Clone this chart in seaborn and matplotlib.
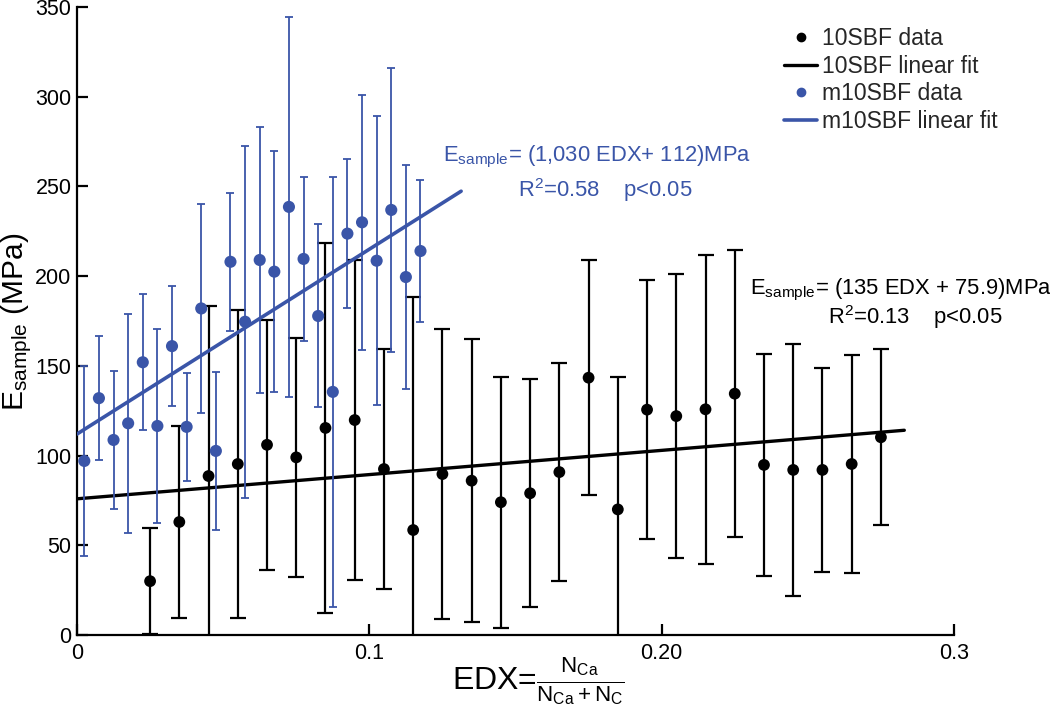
import matplotlib
matplotlib.use("Agg")
import matplotlib.pyplot as plt
from matplotlib.lines import Line2D
import seaborn as sns
import pandas as pd

# ---- data ----
black_x = [0.025, 0.035, 0.045, 0.055, 0.065, 0.075, 0.085, 0.095, 0.105, 0.115,
           0.125, 0.135, 0.145, 0.155, 0.165, 0.175, 0.185, 0.195, 0.205, 0.215,
           0.225, 0.235, 0.245, 0.255, 0.265, 0.275]
black_y = [30, 63, 88.6, 95.3, 106, 99, 115.4, 119.8, 92.5, 58.5,
           89.7, 86, 74, 79, 90.8, 143.4, 70, 125.6, 122, 125.8,
           134.5, 94.8, 92, 92, 95.3, 110.2]
black_err = [29.5, 53.5, 94.5, 86, 69.5, 66.5, 103, 89, 67, 130,
             81, 79, 70, 63.5, 60.7, 65.5, 74, 72, 79, 86,
             80, 62, 70, 57, 60.5, 49]

blue_x = [0.0025, 0.0075, 0.0125, 0.0175, 0.0225, 0.0275, 0.0325, 0.0375,
          0.0425, 0.0475, 0.0525, 0.0575, 0.0625, 0.0675, 0.0725, 0.0775,
          0.0825, 0.0875, 0.0925, 0.0975, 0.1025, 0.1075, 0.1125, 0.1175]
blue_y = [97, 132, 108.7, 118, 152, 116.5, 161, 116,
          182, 102.6, 208, 174.6, 209, 202.5, 238.6, 209.6,
          177.8, 135.5, 223.7, 230, 208.6, 236.9, 199.5, 214]
blue_err = [53, 34.5, 38.5, 61, 38, 54, 33.5, 30,
            58, 44, 38.5, 98, 74, 67, 106, 45.5,
            51, 120, 41.5, 71, 80.5, 79, 62.5, 39.5]

# linear fits (slope, intercept) and x-range of the drawn fit lines
black_fit = (135, 75.9)
black_fit_x = [0.0, 0.283]
blue_fit = (1030, 112)
blue_fit_x = [0.0, 0.1314]

x_ticks = [0, 0.1, 0.2, 0.3]
x_ticklabels = ["0", "0.1", "0.20", "0.3"]
y_ticks = [0, 50, 100, 150, 200, 250, 300, 350]

BLUE = "#3A55A8"

# ---- style ----
sns.set_theme(style="ticks")
plt.rcParams["font.family"] = ["Liberation Sans", "DejaVu Sans"]
plt.rcParams["mathtext.fontset"] = "custom"
plt.rcParams["mathtext.rm"] = "Liberation Sans"
plt.rcParams["mathtext.it"] = "Liberation Sans:italic"
plt.rcParams["mathtext.bf"] = "Liberation Sans:bold"

fig = plt.figure(figsize=(10.5, 7.05), dpi=100)
ax = fig.add_axes([77 / 1050, 70 / 705, (954 - 77) / 1050, (635 - 7) / 705])

df_black = pd.DataFrame({"x": black_x, "y": black_y})
df_blue = pd.DataFrame({"x": blue_x, "y": blue_y})
df_bfit = pd.DataFrame({"x": black_fit_x,
                        "y": [black_fit[0] * v + black_fit[1] for v in black_fit_x]})
df_ufit = pd.DataFrame({"x": blue_fit_x,
                        "y": [blue_fit[0] * v + blue_fit[1] for v in blue_fit_x]})

# black series
ax.errorbar(black_x, black_y, yerr=black_err, fmt="none", ecolor="black",
            elinewidth=1.6, capsize=5.5, capthick=1.6, zorder=2)
sns.lineplot(data=df_bfit, x="x", y="y", color="black", lw=2.4, ax=ax, zorder=3)
sns.scatterplot(data=df_black, x="x", y="y", color="black", s=72,
                edgecolor="none", ax=ax, zorder=4)

# blue series
ax.errorbar(blue_x, blue_y, yerr=blue_err, fmt="none", ecolor=BLUE,
            elinewidth=1.3, capsize=2.8, capthick=1.3, zorder=5)
sns.lineplot(data=df_ufit, x="x", y="y", color=BLUE, lw=2.6, ax=ax, zorder=6)
sns.scatterplot(data=df_blue, x="x", y="y", color=BLUE, s=76,
                edgecolor="none", ax=ax, zorder=7)

ax.set_xlim(0, 0.3)
ax.set_ylim(0, 350)
ax.set_xticks(x_ticks)
ax.set_xticklabels(x_ticklabels)
ax.set_yticks(y_ticks)
sns.despine(ax=ax)
for s in ["left", "bottom"]:
    ax.spines[s].set_linewidth(1.6)
    ax.spines[s].set_color("black")
ax.tick_params(axis="both", direction="in", length=8, width=1.6,
               labelsize=15.5, colors="black", pad=4)
ax.tick_params(axis="x", pad=6)
ax.set_xlabel("")
ax.set_ylabel("")

# axis titles
fig.text(17 / 1050, 1 - 322 / 705, r"E$_{\mathrm{sample}}$ (MPa)",
         fontsize=21.5, color="black", rotation=90, ha="center", va="center")
fig.text(452 / 1050, 1 - 681 / 705,
         r"EDX=$\frac{\mathrm{N_{Ca}}}{\mathrm{N_{Ca}}+\mathrm{N_C}}$",
         fontsize=23, color="black", ha="left", va="center")

# annotations
fig.text(443 / 1050, 1 - 157 / 705,
         r"E$_{\mathrm{sample}}$= (1,030 EDX+ 112)MPa",
         color=BLUE, fontsize=15.8, ha="left", va="center")
fig.text(518 / 1050, 1 - 190 / 705,
         r"R$^{2}$=0.58    p<0.05",
         color=BLUE, fontsize=15.8, ha="left", va="center")
fig.text(750 / 1050, 1 - 290 / 705,
         r"E$_{\mathrm{sample}}$= (135 EDX + 75.9)MPa",
         color="black", fontsize=15.8, ha="left", va="center")
fig.text(828 / 1050, 1 - 317 / 705,
         r"R$^{2}$=0.13    p<0.05",
         color="black", fontsize=15.8, ha="left", va="center")

handles = [
    Line2D([], [], marker="o", color="black", ls="none", markersize=6),
    Line2D([], [], color="black", lw=2.4),
    Line2D([], [], marker="o", color=BLUE, ls="none", markersize=6),
    Line2D([], [], color=BLUE, lw=2.6),
]
labels = ["10SBF data", "10SBF linear fit", "m10SBF data", "m10SBF linear fit"]
fig.legend(handles, labels, loc="upper left",
           bbox_to_anchor=(784 / 1050, 1 - 27 / 705),
           frameon=False, fontsize=16.5, handlelength=1.45, handletextpad=0.22,
           labelspacing=0.2, borderpad=0, borderaxespad=0)

fig.savefig("out.png", dpi=100)
